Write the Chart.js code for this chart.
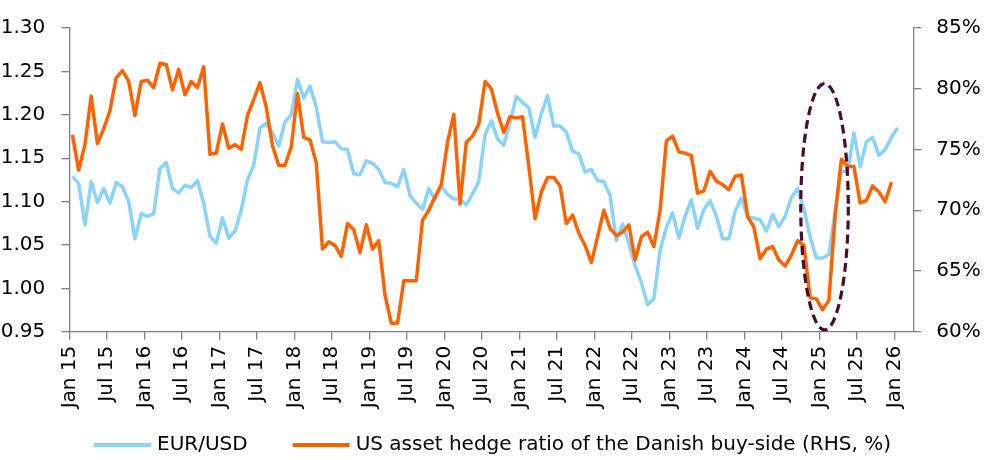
<!DOCTYPE html>
<html>
<head>
<meta charset="utf-8">
<script src="https://cdn.jsdelivr.net/npm/chart.js@4.4.1/dist/chart.umd.min.js"></script>
<style>
  html, body { margin: 0; padding: 0; background: #fff; }
  #wrap { width: 990px; height: 460px; }
</style>
</head>
<body>
<div id="wrap"><canvas id="chart" width="990" height="460"></canvas></div>
<script>
// tick labels every 6 months, Jan 15 .. Jan 26
const tickLabels = ['Jan 15','Jul 15','Jan 16','Jul 16','Jan 17','Jul 17','Jan 18','Jul 18',
  'Jan 19','Jul 19','Jan 20','Jul 20','Jan 21','Jul 21','Jan 22','Jul 22','Jan 23','Jul 23',
  'Jan 24','Jul 24','Jan 25','Jul 25','Jan 26'];

// monthly EUR/USD, Jan 15 .. Jan 26 (left axis)
const eurUsd = [
  1.129,1.121,1.073,1.123,1.099,1.115,1.098,1.122,1.117,1.100,1.057,1.086,
  1.083,1.086,1.138,1.145,1.115,1.110,1.119,1.116,1.124,1.098,1.060,1.052,
  1.081,1.058,1.066,1.090,1.125,1.142,1.185,1.190,1.179,1.164,1.192,1.200,
  1.241,1.219,1.233,1.209,1.169,1.168,1.169,1.161,1.160,1.132,1.131,1.147,
  1.144,1.137,1.122,1.121,1.117,1.137,1.107,1.098,1.091,1.115,1.102,1.118,
  1.108,1.103,1.103,1.096,1.109,1.123,1.177,1.193,1.172,1.165,1.192,1.221,
  1.214,1.208,1.174,1.201,1.222,1.187,1.187,1.180,1.158,1.155,1.134,1.137,
  1.124,1.123,1.107,1.055,1.074,1.052,1.026,1.007,0.981,0.988,1.044,1.070,
  1.087,1.058,1.083,1.102,1.069,1.091,1.101,1.083,1.057,1.057,1.089,1.104,
  1.082,1.081,1.079,1.066,1.085,1.071,1.083,1.105,1.115,1.092,1.059,1.035,
  1.035,1.039,1.089,1.135,1.135,1.179,1.140,1.169,1.174,1.153,1.160,1.174,
  1.185
];

// monthly US asset hedge ratio, %, Jan 15 .. Dec 25 (right axis)
const hedgeRatio = [
  76.2,73.3,75.4,79.4,75.5,76.7,78.2,80.9,81.5,80.6,77.8,80.6,
  80.7,80.1,82.1,82.0,79.9,81.6,79.5,80.6,80.1,81.8,74.6,74.7,
  77.1,75.1,75.4,75.0,77.8,79.1,80.5,78.5,75.3,73.7,73.7,75.2,
  79.6,76.0,75.8,73.9,66.8,67.4,67.1,66.2,68.9,68.4,66.5,68.8,
  66.8,67.5,63.0,60.7,60.7,64.2,64.2,64.2,69.2,70.0,71.1,72.1,
  75.6,77.9,70.5,75.6,76.1,77.1,80.6,80.0,78.0,76.4,77.7,77.6,
  77.7,73.6,69.3,71.5,72.7,72.7,72.0,68.9,69.6,68.1,67.1,65.7,
  67.8,70.0,68.5,67.9,68.2,68.8,65.9,67.8,68.2,67.0,70.0,75.7,
  76.1,74.8,74.7,74.5,71.4,71.6,73.2,72.4,72.1,71.7,72.8,72.9,
  69.5,68.6,66.0,66.8,67.0,65.9,65.4,66.3,67.5,67.1,62.8,62.7,
  61.8,62.6,69.6,74.2,73.6,73.6,70.6,70.8,72.0,71.5,70.7,72.3
];

const seriesNames = ['EUR/USD', 'US asset hedge ratio of the Danish buy-side (RHS, %)'];

// dashed ring around Jan 25 (month index, left-axis value, radii in axis units)
const ring = { x: 120.3, y: 1.094, rx: 3.8, ry: 0.142 };

const blue = '#8BD4F9';
const orange = '#FF6200';
const maroon = '#4A0B2C';
const axisGrey = '#808080';
const fontFamily = "'DejaVu Sans', sans-serif";

Chart.defaults.font.family = fontFamily;
Chart.defaults.font.size = 20;
Chart.defaults.color = '#000';

const ringPlugin = {
  id: 'ring',
  afterDatasetsDraw(chart) {
    const {ctx, scales: {x, y}} = chart;
    const cx = x.getPixelForValue(ring.x);
    const cy = y.getPixelForValue(ring.y);
    const rx = Math.abs(x.getPixelForValue(ring.x + ring.rx) - cx);
    const ry = Math.abs(y.getPixelForValue(ring.y + ring.ry) - cy);
    ctx.save();
    ctx.strokeStyle = maroon;
    ctx.lineWidth = 3.2;
    ctx.setLineDash([9, 5]);
    ctx.beginPath();
    ctx.ellipse(cx, cy, rx, ry, 0, 0, Math.PI * 2);
    ctx.stroke();
    ctx.restore();
  }
};

// legend drawn under the axis labels: short line + name per series
const lineLegend = {
  id: 'lineLegend',
  afterDraw(chart) {
    const ctx = chart.ctx;
    let x = 94;
    const y = 445;
    ctx.save();
    ctx.font = '20px ' + fontFamily;
    ctx.textBaseline = 'middle';
    ctx.textAlign = 'left';
    chart.data.datasets.forEach((d) => {
      ctx.fillStyle = d.borderColor;
      ctx.fillRect(x, y - 2, 57, 4);
      x += 57 + 6;
      ctx.fillStyle = '#000';
      ctx.fillText(d.label, x, y);
      x += ctx.measureText(d.label).width + 45;
    });
    ctx.restore();
  }
};

const axisGrid = { drawOnChartArea: false, tickLength: 8, color: axisGrey, lineWidth: 1.3 };
const axisBorder = { color: axisGrey, width: 1.3 };

new Chart(document.getElementById('chart'), {
  type: 'line',
  data: {
    datasets: [
      {
        label: seriesNames[0],
        data: eurUsd.map((v, i) => ({x: i, y: v})),
        borderColor: blue,
        borderWidth: 3.5,
        pointRadius: 0,
        borderJoinStyle: 'round',
        yAxisID: 'y',
        order: 1
      },
      {
        label: seriesNames[1],
        data: hedgeRatio.map((v, i) => ({x: i, y: v})),
        borderColor: orange,
        borderWidth: 3.5,
        pointRadius: 0,
        borderJoinStyle: 'round',
        yAxisID: 'y1',
        order: 0
      }
    ]
  },
  options: {
    responsive: false,
    animation: false,
    devicePixelRatio: 1,
    layout: { padding: { top: 16, left: 0, right: 0, bottom: 0 } },
    plugins: {
      tooltip: { enabled: false },
      legend: { display: false }
    },
    scales: {
      x: {
        type: 'linear',
        min: -0.5,
        max: 134.5,
        afterBuildTicks: (s) => { s.ticks = tickLabels.map((t, k) => ({value: 6 * k - 0.5})); },
        afterFit: (s) => { s.height = 128.3; },
        ticks: {
          autoSkip: false,
          minRotation: 90,
          maxRotation: 90,
          padding: 6,
          font: { size: 20 },
          callback: (v, idx) => tickLabels[idx]
        },
        grid: axisGrid,
        border: axisBorder
      },
      y: {
        position: 'left',
        min: 0.95,
        max: 1.30,
        afterFit: (s) => { s.width = 69.3; },
        ticks: { stepSize: 0.05, padding: 16, callback: (v) => v.toFixed(2) },
        grid: axisGrid,
        border: axisBorder
      },
      y1: {
        position: 'right',
        min: 60,
        max: 85,
        afterFit: (s) => { s.width = 76.7; },
        ticks: { stepSize: 5, padding: 15, callback: (v) => v + '%' },
        grid: axisGrid,
        border: axisBorder
      }
    }
  },
  plugins: [ringPlugin, lineLegend]
});
</script>
</body>
</html>
